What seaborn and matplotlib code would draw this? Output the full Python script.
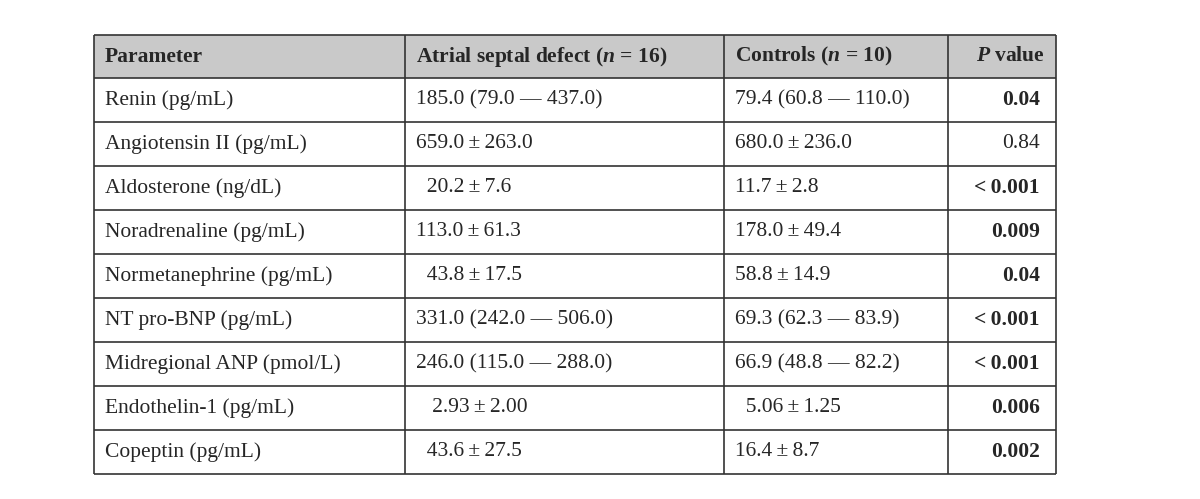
import matplotlib.pyplot as plt
import seaborn as sns

# Table content
parameters = ["Renin (pg/mL)", "Angiotensin II (pg/mL)", "Aldosterone (ng/dL)",
              "Noradrenaline (pg/mL)", "Normetanephrine (pg/mL)", "NT pro-BNP (pg/mL)",
              "Midregional ANP (pmol/L)", "Endothelin-1 (pg/mL)", "Copeptin (pg/mL)"]
asd_values = ["185.0 (79.0 \u2014 437.0)", "659.0\u2009\u00b1\u2009263.0", "  20.2\u2009\u00b1\u20097.6",
              "113.0\u2009\u00b1\u200961.3", "  43.8\u2009\u00b1\u200917.5", "331.0 (242.0 \u2014 506.0)",
              "246.0 (115.0 \u2014 288.0)", "   2.93\u2009\u00b1\u20092.00", "  43.6\u2009\u00b1\u200927.5"]
control_values = ["79.4 (60.8 \u2014 110.0)", "680.0\u2009\u00b1\u2009236.0", "11.7\u2009\u00b1\u20092.8",
                  "178.0\u2009\u00b1\u200949.4", "58.8\u2009\u00b1\u200914.9", "69.3 (62.3 \u2014 83.9)",
                  "66.9 (48.8 \u2014 82.2)", "  5.06\u2009\u00b1\u20091.25", "16.4\u2009\u00b1\u20098.7"]
p_values = ["0.04", "0.84", "<\u20090.001", "0.009", "0.04", "<\u20090.001", "<\u20090.001", "0.006", "0.002"]
p_bold = [True, False, True, True, True, True, True, True, True]

sns.set_theme(style="white")
plt.rcParams["font.family"] = "Liberation Serif"
plt.rcParams["mathtext.fontset"] = "custom"
plt.rcParams["mathtext.rm"] = "Liberation Serif"
plt.rcParams["mathtext.it"] = "Liberation Serif:italic"
plt.rcParams["mathtext.bf"] = "Liberation Serif:bold"
plt.rcParams["mathtext.bfit"] = "Liberation Serif:bold:italic"

fig = plt.figure(figsize=(12, 4.99), dpi=100)
ax = fig.add_axes([0, 0, 1, 1])
ax.set_xlim(0, 1200)
ax.set_ylim(499, 0)
ax.axis("off")

cols = [94, 405, 724, 948, 1056]
top, head_bot, bottom = 35, 78, 474
row_h = (bottom - head_bot) / len(parameters)

ax.add_patch(plt.Rectangle((cols[0], top), cols[-1] - cols[0], head_bot - top,
                           facecolor="#c9c9c9", edgecolor="none"))
lc = "#333333"
ys = [top, head_bot] + [head_bot + row_h * (i + 1) for i in range(len(parameters))]
ax.hlines(ys, cols[0], cols[-1], color=lc, lw=1.2)
ax.vlines(cols, top, bottom, color=lc, lw=1.2)

fs = 15.5
hy = (top + head_bot) / 2
ax.text(cols[0] + 11, hy, "Parameter", fontsize=fs, fontweight="bold", va="center")
ax.text(cols[1] + 11, hy, r"$\mathbf{Atrial\ septal\ defect\ (}\mathbfit{n}\mathbf{\,=\,16)}$",
        fontsize=fs, va="center")
ax.text(cols[2] + 11, hy, r"$\mathbf{Controls\ (}\mathbfit{n}\mathbf{\,=\,10)}$", fontsize=fs, va="center")
ax.text(1010, hy, r"$\mathbfit{P}\mathbf{\ value}$", fontsize=fs, va="center", ha="center")

for i in range(len(parameters)):
    y = head_bot + row_h * (i + 0.5)
    ax.text(cols[0] + 11, y, parameters[i], fontsize=fs, va="center")
    ax.text(cols[1] + 11, y, asd_values[i], fontsize=fs, va="center")
    ax.text(cols[2] + 11, y, control_values[i], fontsize=fs, va="center")
    ax.text(1040, y, p_values[i], fontsize=fs, va="center", ha="right",
            fontweight="bold" if p_bold[i] else "normal")

fig.savefig("out.png", dpi=100, facecolor="white")
